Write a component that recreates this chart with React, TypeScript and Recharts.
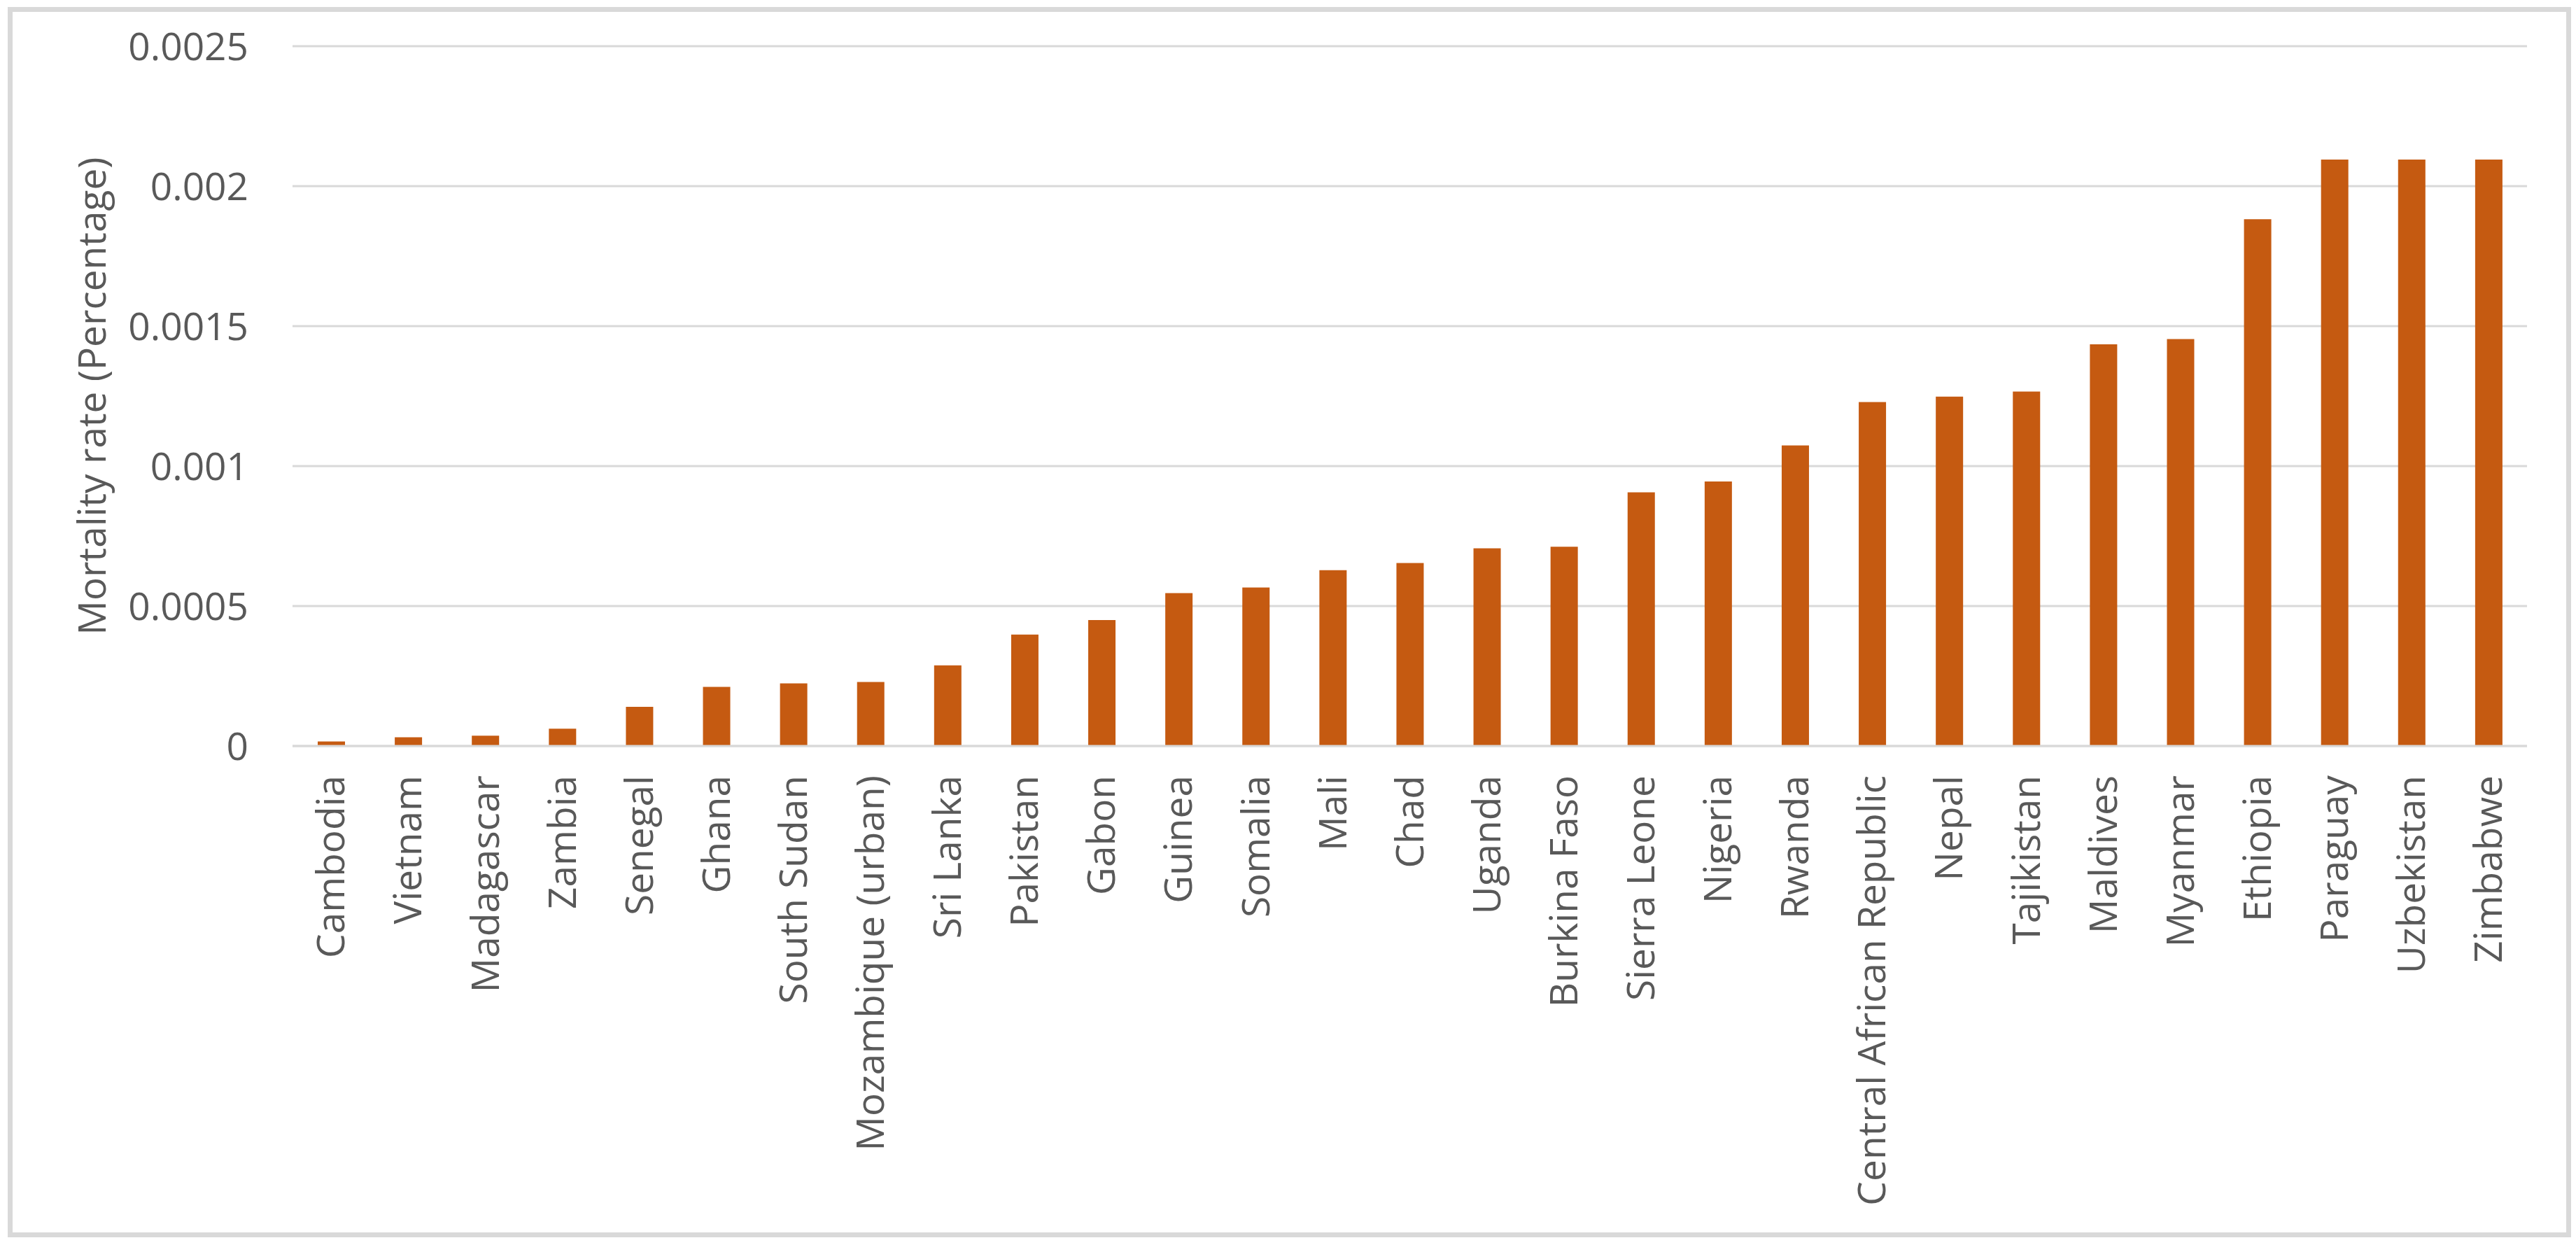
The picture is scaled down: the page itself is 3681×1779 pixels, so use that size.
import React from "react";
import { BarChart, Bar, XAxis, YAxis, CartesianGrid, Label } from "recharts";

const countries = [
  "Cambodia", "Vietnam", "Madagascar", "Zambia", "Senegal", "Ghana", "South Sudan",
  "Mozambique (urban)", "Sri Lanka", "Pakistan", "Gabon", "Guinea", "Somalia", "Mali",
  "Chad", "Uganda", "Burkina Faso", "Sierra Leone", "Nigeria", "Rwanda",
  "Central African Republic", "Nepal", "Tajikistan", "Maldives", "Myanmar", "Ethiopia",
  "Paraguay", "Uzbekistan", "Zimbabwe",
];

const mortality = [
  0.000016, 0.000031, 0.000037, 0.000062, 0.00014, 0.000211, 0.000224,
  0.000229, 0.000288, 0.000398, 0.00045, 0.000546, 0.000566, 0.000628,
  0.000654, 0.000706, 0.000712, 0.000906, 0.000945, 0.001074,
  0.001229, 0.001248, 0.001266, 0.001435, 0.001454, 0.001882,
  0.002095, 0.002095, 0.002095,
];

const yTicks = [0, 0.0005, 0.001, 0.0015, 0.002, 0.0025];
const yTickLabels = ["0", "0.0005", "0.001", "0.0015", "0.002", "0.0025"];
const yAxisTitle = "Mortality rate (Percentage)";

const data = countries.map((c, i) => ({ country: c, value: mortality[i] }));

const FONT = "'Open Sans', 'Noto Sans', sans-serif";
const TEXT = "#595959";
const GRID = "#d9d9d9";
const BAR = "#c55a11";

const XTick = (props: any) => {
  const { x, y, payload } = props;
  return (
    <g transform={`translate(${x},${y})`}>
      <text
        x={0}
        y={0}
        dy="0.35em"
        textAnchor="end"
        transform="rotate(-90)"
        fill={TEXT}
        fontSize={55}
        fontFamily={FONT}
      >
        {payload.value}
      </text>
    </g>
  );
};

const YTitle = (props: any) => {
  const vb = props.viewBox || {};
  const cx = vb.x + 11;
  const cy = vb.y + vb.height / 2;
  return (
    <text
      x={cx}
      y={cy}
      transform={`rotate(-90, ${cx}, ${cy})`}
      textAnchor="middle"
      dominantBaseline="central"
      fill={TEXT}
      fontSize={55}
      fontFamily={FONT}
    >
      {yAxisTitle}
    </text>
  );
};

export default function App() {
  return (
    <div
      style={{
        position: "absolute",
        left: 0,
        top: 0,
        width: 3681,
        height: 1779,
        background: "#ffffff",
      }}
    >
      <div
        style={{
          position: "absolute",
          left: 11,
          top: 10,
          width: 3663,
          height: 1758,
          boxSizing: "border-box",
          border: `7px solid ${GRID}`,
        }}
      />
      <div style={{ position: "absolute", left: 0, top: 0 }}>
        <BarChart
          width={3681}
          height={1779}
          data={data}
          margin={{ top: 66, right: 70, bottom: 113, left: 118 }}
        >
          <CartesianGrid vertical={false} stroke={GRID} strokeWidth={3} />
          <XAxis
            dataKey="country"
            interval={0}
            height={600}
            tickLine={false}
            axisLine={{ stroke: GRID, strokeWidth: 3 }}
            tickMargin={36}
            tick={<XTick />}
          />
          <YAxis
            width={300}
            domain={[0, 0.0025]}
            ticks={yTicks}
            interval={0}
            tickLine={false}
            axisLine={false}
            tickMargin={57}
            tickFormatter={(v: number) => yTickLabels[yTicks.indexOf(v)] ?? String(v)}
            tick={{ fill: TEXT, fontSize: 55, fontFamily: FONT }}
          >
            <Label content={<YTitle />} />
          </YAxis>
          <Bar dataKey="value" fill={BAR} barSize={39} isAnimationActive={false} />
        </BarChart>
      </div>
    </div>
  );
}
